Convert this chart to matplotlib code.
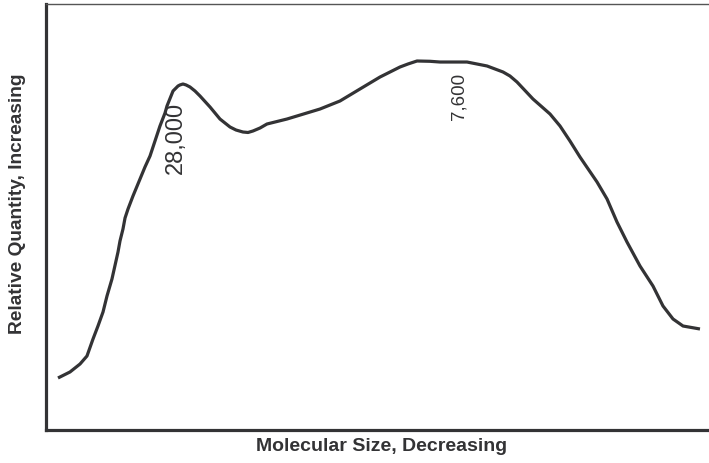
import matplotlib
matplotlib.use("Agg")
import matplotlib.pyplot as plt

# Curve (x: molecular size axis 0-100, y: relative quantity 0-100)
x_vals = [1.81, 3.62, 5.13, 6.18, 7.09, 7.84, 8.60, 9.20, 9.95, 10.86, 11.16, 11.61, 11.92,
          12.37, 13.12, 14.18, 14.93, 15.69, 16.44, 17.19, 17.95, 18.25, 19.16, 19.61, 19.91,
          20.21, 20.66, 21.12, 21.72, 22.47, 23.23, 24.74, 26.24, 27.75, 28.66, 29.71, 30.47,
          31.22, 32.28, 33.33, 36.35, 41.33, 44.34, 47.36, 50.38, 53.39, 54.60, 55.96, 57.92,
          59.43, 60.93, 63.50, 66.52, 68.93, 69.98, 71.04, 73.45, 76.02, 77.53, 79.03, 80.54,
          83.11, 84.62, 86.12, 87.63, 89.59, 91.55, 93.06, 94.57, 96.08, 98.64]
y_vals = [12.21, 13.62, 15.49, 17.37, 21.36, 24.41, 27.70, 31.46, 35.45, 41.78, 44.37, 47.18, 49.77,
          51.88, 54.93, 58.92, 61.74, 64.32, 67.84, 71.36, 74.41, 76.06, 79.58, 80.28, 80.75,
          81.00, 81.22, 81.00, 80.52, 79.58, 78.40, 75.82, 73.00, 71.13, 70.42, 69.95, 69.84,
          70.19, 70.89, 71.83, 73.00, 75.35, 77.23, 80.05, 82.86, 85.21, 85.92, 86.62, 86.55,
          86.38, 86.38, 86.38, 85.45, 84.04, 83.10, 81.69, 77.70, 74.18, 71.36, 67.84, 64.08,
          58.22, 54.23, 48.83, 44.13, 38.50, 33.80, 29.11, 26.06, 24.41, 23.71]

peak_labels = ["28,000", "7,600"]
peak_x = [19.6, 62.3]
peak_y = [68.8, 78.6]
peak_sizes = [17, 13.5]

x_label = "Molecular Size, Decreasing"
y_label = "Relative Quantity, Increasing"

col = "#333335"
plt.rcParams['font.family'] = ['Liberation Sans', 'DejaVu Sans']

fig = plt.figure(figsize=(7.09, 4.64), dpi=100)
ax = fig.add_axes([46/709, 33/464, 663/709, 426/464])
ax.plot(x_vals, y_vals, color=col, lw=2.3, solid_capstyle='butt', solid_joinstyle='round')
ax.set_xlim(0, 100)
ax.set_ylim(0, 100)
ax.set_xticks([])
ax.set_yticks([])
ax.spines['right'].set_visible(False)
ax.spines['left'].set_linewidth(2.3)
ax.spines['bottom'].set_linewidth(2.3)
ax.spines['left'].set_color(col)
ax.spines['bottom'].set_color(col)
ax.spines['top'].set_linewidth(1.0)
ax.spines['top'].set_color('#555555')

for lab, px, py, fs in zip(peak_labels, peak_x, peak_y, peak_sizes):
    ax.text(px, py, lab, rotation=90, ha='center', va='center', fontsize=fs, color=col)

fig.text(382/709, 1 - 447/464, x_label, ha='center', va='center', fontsize=14,
         fontweight='bold', color=col)
fig.text(18/709, 1 - 204/464, y_label, ha='center', va='center', rotation=90,
         fontsize=13.8, fontweight='bold', color=col)

fig.savefig("out.png", dpi=100, facecolor='white')
